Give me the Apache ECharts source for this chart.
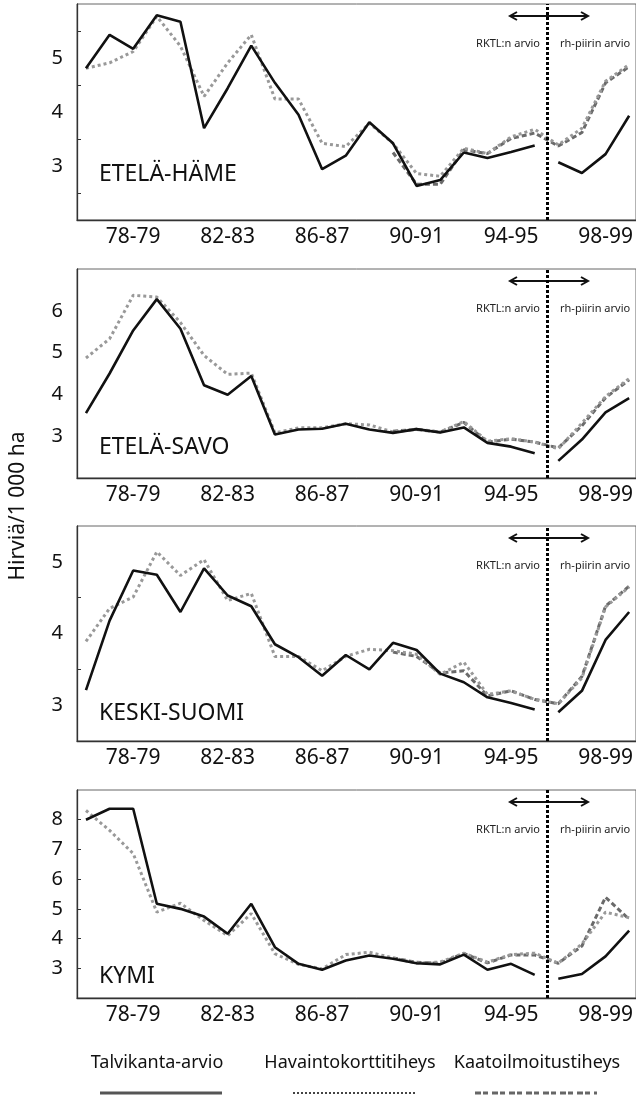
<!DOCTYPE html>
<html lang="fi">
<head>
<meta charset="UTF-8">
<title>Hirvitiheys</title>
<script src="https://cdn.jsdelivr.net/npm/echarts@6.0.0/dist/echarts.min.js"></script>
<style>
    html, body { margin: 0; padding: 0; background: #fff; }
    #chart { width: 636px; height: 1095px; }
</style>
</head>
<body>
<div id="chart"></div>
<script>
    // metsästyskaudet 76-77 ... 99-00
    const kaudet = ['76-77', '77-78', '78-79', '79-80', '80-81', '81-82', '82-83', '83-84',
        '84-85', '85-86', '86-87', '87-88', '88-89', '89-90', '90-91', '91-92',
        '92-93', '93-94', '94-95', '95-96', '96-97', '97-98', '98-99', '99-00'];
    const tickKaudet = ['78-79', '82-83', '86-87', '90-91', '94-95', '98-99'];
    const alueet = ['ETELÄ-HÄME', 'ETELÄ-SAVO', 'KESKI-SUOMI', 'KYMI'];
    const sarjat = ['Talvikanta-arvio', 'Havaintokorttitiheys', 'Kaatoilmoitustiheys'];

    const hameTalvi = [4.81, 5.43, 5.17, 5.79, 5.67, 3.70, 4.44, 5.23, 4.54, 3.95, 2.94, 3.19,
        3.81, 3.42, 2.63, 2.74, 3.25, 3.15, 3.26, 3.38, 3.07, 2.87, 3.22, 3.93];
    const hameHavainto = [4.81, 4.91, 5.12, 5.77, 5.22, 4.29, 4.91, 5.43, 4.24, 4.24, 3.42, 3.36,
        3.79, 3.42, 2.86, 2.81, 3.33, 3.23, 3.54, 3.68, 3.39, 3.70, 4.57, 4.88];
    const hameKaato = [null, null, null, null, null, null, null, null, null, null, null, null,
        null, 3.25, 2.66, 2.66, 3.30, 3.23, 3.51, 3.61, 3.37, 3.62, 4.54, 4.84];

    const savoTalvi = [3.55, 4.50, 5.53, 6.28, 5.57, 4.22, 3.99, 4.44, 3.04, 3.16, 3.18, 3.30,
        3.16, 3.08, 3.17, 3.09, 3.21, 2.84, 2.75, 2.59, 2.41, 2.92, 3.57, 3.91];
    const savoHavainto = [4.87, 5.33, 6.37, 6.33, 5.72, 4.93, 4.48, 4.51, 3.08, 3.20, 3.20, 3.30,
        3.27, 3.10, 3.17, 3.10, 3.35, 2.88, 2.94, 2.86, 2.70, 3.31, 3.95, 4.38];
    const savoKaato = [null, null, null, null, null, null, null, null, null, null, null, null,
        null, 3.12, 3.16, 3.10, 3.33, 2.86, 2.93, 2.86, 2.72, 3.25, 3.92, 4.35];

    const suomiTalvi = [3.21, 4.18, 4.88, 4.82, 4.30, 4.91, 4.53, 4.38, 3.85, 3.67, 3.41, 3.70,
        3.50, 3.87, 3.77, 3.44, 3.32, 3.11, 3.03, 2.94, 2.90, 3.20, 3.91, 4.30];
    const suomiHavainto = [3.89, 4.35, 4.51, 5.14, 4.81, 5.03, 4.46, 4.56, 3.68, 3.68, 3.48, 3.68,
        3.78, 3.76, 3.71, 3.43, 3.60, 3.15, 3.20, 3.08, 3.02, 3.38, 4.37, 4.65];
    const suomiKaato = [null, null, null, null, null, null, null, null, null, null, null, null,
        null, 3.74, 3.68, 3.45, 3.48, 3.13, 3.20, 3.08, 3.02, 3.40, 4.38, 4.66];

    const kymiTalvi = [8.00, 8.37, 8.37, 5.17, 5.00, 4.74, 4.16, 5.17, 3.71, 3.15, 2.95, 3.26,
        3.43, 3.32, 3.17, 3.13, 3.46, 2.95, 3.15, 2.78, 2.65, 2.81, 3.40, 4.27];
    const kymiHavainto = [8.31, 7.64, 6.86, 4.89, 5.19, 4.61, 4.10, 4.84, 3.49, 3.13, 2.98, 3.46,
        3.54, 3.35, 3.17, 3.21, 3.51, 3.21, 3.46, 3.51, 3.17, 3.82, 4.89, 4.70];
    const kymiKaato = [null, null, null, null, null, null, null, null, null, null, null, null,
        null, 3.35, 3.20, 3.17, 3.50, 3.18, 3.45, 3.45, 3.17, 3.75, 5.39, 4.65];

    // RKTL:n arvio päättyy kauteen 95-96, rh-piirin arvio alkaa 96-97
    const katko = 19.55;

    const FONT = 'Noto Sans';
    const panels = [
        {talvi: hameTalvi, havainto: hameHavainto, kaato: hameKaato, top: 4, height: 216,
            min: 2, max: 6, labels: [3, 4, 5], ticks: [2.5, 3.5, 4.5, 5.5], nameY: 177},
        {talvi: savoTalvi, havainto: savoHavainto, kaato: savoKaato, top: 269, height: 209,
            min: 2, max: 7, labels: [3, 4, 5, 6], ticks: [], nameY: 450},
        {talvi: suomiTalvi, havainto: suomiHavainto, kaato: suomiKaato, top: 526, height: 215,
            min: 2.5, max: 5.5, labels: [3, 4, 5], ticks: [3.5, 4.5], nameY: 716},
        {talvi: kymiTalvi, havainto: kymiHavainto, kaato: kymiKaato, top: 790, height: 208,
            min: 2, max: 9, labels: [3, 4, 5, 6, 7, 8], ticks: [3, 4, 5, 6, 7, 8], nameY: 979}
    ];

    const tickIdx = tickKaudet.map(k => kaudet.indexOf(k));
    const pairs = arr => arr.map((v, i) => [i, v == null ? '-' : v]);

    let grid = [], xAxis = [], yAxis = [], series = [], graphic = [];
    panels.forEach((p, n) => {
        grid.push({left: 77, right: -2, top: p.top, height: p.height, show: true,
            borderColor: '#666', borderWidth: 1});
        xAxis.push({
            type: 'value', gridIndex: n, min: -0.38, max: 23.29,
            axisLine: {show: true, onZero: false, lineStyle: {color: '#333', width: 1.3}},
            axisTick: {show: false},
            splitLine: {show: false},
            axisLabel: {customValues: tickIdx, formatter: v => kaudet[v],
                fontFamily: FONT, fontSize: 21, color: '#111', margin: 7}
        });
        yAxis.push({
            type: 'value', gridIndex: n, min: p.min, max: p.max,
            axisLine: {show: true, onZero: false, lineStyle: {color: '#333', width: 1.3}},
            axisTick: {show: p.ticks.length > 0, inside: true, length: 4, customValues: p.ticks,
                lineStyle: {color: '#333'}},
            splitLine: {show: false},
            axisLabel: {customValues: p.labels, fontFamily: FONT, fontSize: 20, color: '#111', margin: 14}
        });

        // talvikanta-arvio katkeaa arvioijan vaihtuessa
        let talvi = pairs(p.talvi);
        talvi.splice(20, 0, [katko, '-']);

        series.push({
            name: sarjat[2], type: 'line', xAxisIndex: n, yAxisIndex: n,
            data: pairs(p.kaato), showSymbol: false, connectNulls: false,
            lineStyle: {color: '#6a6a6a', width: 3, type: [5, 3]}
        });
        series.push({
            name: sarjat[1], type: 'line', xAxisIndex: n, yAxisIndex: n,
            data: pairs(p.havainto), showSymbol: false,
            lineStyle: {color: '#999', width: 3, type: [3, 3]}
        });
        series.push({
            name: sarjat[0], type: 'line', xAxisIndex: n, yAxisIndex: n,
            data: talvi, showSymbol: false, connectNulls: false,
            lineStyle: {color: '#111', width: 2.6},
            markLine: {
                silent: true, symbol: 'none', label: {show: false},
                lineStyle: {color: '#000', width: 3, type: [3, 2]},
                data: [{xAxis: katko}]
            }
        });

        // alueen nimi ja arvioiden selitteet
        graphic.push({type: 'text', left: 99, top: p.nameY - 14,
            style: {text: alueet[n], font: '23px "Noto Sans"', fill: '#111'}});
        const ay = p.top + 12;
        graphic.push({type: 'line', shape: {x1: 511, y1: ay, x2: 587, y2: ay},
            style: {stroke: '#111', lineWidth: 2}});
        graphic.push({type: 'polyline', shape: {points: [[517, ay - 4], [510, ay], [517, ay + 4]]},
            style: {stroke: '#111', lineWidth: 2, fill: null}});
        graphic.push({type: 'polyline', shape: {points: [[581, ay - 4], [588, ay], [581, ay + 4]]},
            style: {stroke: '#111', lineWidth: 2, fill: null}});
        graphic.push({type: 'text', x: 540, y: p.top + 40,
            style: {text: 'RKTL:n arvio', font: '11px "Noto Sans"', fill: '#222',
                align: 'right', verticalAlign: 'middle'}});
        graphic.push({type: 'text', x: 560, y: p.top + 40,
            style: {text: 'rh-piirin arvio', font: '11px "Noto Sans"', fill: '#222',
                align: 'left', verticalAlign: 'middle'}});
    });

    // y-akselin nimi
    graphic.push({type: 'text', x: 18, y: 506, rotation: Math.PI / 2,
        style: {text: 'Hirviä/1 000 ha', font: '21px "Noto Sans"', fill: '#111',
            align: 'center', verticalAlign: 'middle'}});

    // selite sivun alareunassa
    const selite = [
        {x: 157, x1: 100, x2: 222, color: '#555', dash: null, width: 3},
        {x: 350, x1: 293, x2: 415, color: '#444', dash: [2, 2], width: 2},
        {x: 537, x1: 475, x2: 597, color: '#666', dash: [6, 2, 5, 4], width: 3}
    ];
    selite.forEach((s, i) => {
        graphic.push({type: 'text', x: s.x, y: 1063,
            style: {text: sarjat[i], font: '18px "Noto Sans"', fill: '#111',
                align: 'center', verticalAlign: 'middle'}});
        graphic.push({type: 'line', shape: {x1: s.x1, y1: 1093, x2: s.x2, y2: 1093},
            style: {stroke: s.color, lineWidth: s.width, lineDash: s.dash}});
    });

    const myChart = echarts.init(document.getElementById('chart'));
    myChart.setOption({
        animation: false,
        grid: grid,
        xAxis: xAxis,
        yAxis: yAxis,
        series: series,
        graphic: graphic
    });
</script>
</body>
</html>
